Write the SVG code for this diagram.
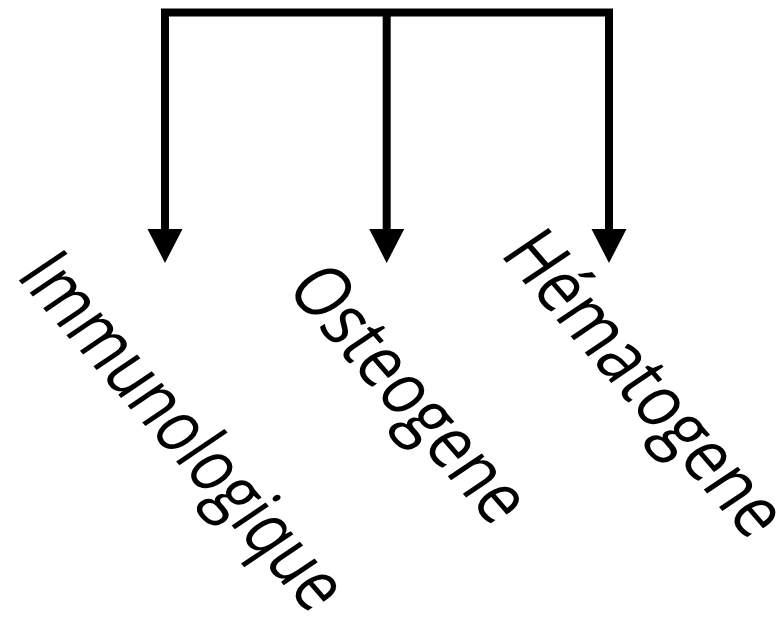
<svg xmlns="http://www.w3.org/2000/svg" width="777" height="617" viewBox="0 0 777 617">
  <style>
    .wire { fill: none; stroke: #000; stroke-width: 8; stroke-linejoin: miter; stroke-linecap: butt; }
    .head { fill: #000; }
    .label { font-family: "Open Sans", "DejaVu Sans", sans-serif; font-size: 76px; fill: #000; }
  </style>
  <defs>
    <polygon id="arrowhead" class="head" points="-17.5,0 17.5,0 0,34"/>
  </defs>
  <rect width="777" height="617" fill="#fff"/>

  <!-- bracket splitting into three branches -->
  <g id="connectors">
    <path class="wire" d="M165,230 V12.5 H609 V230"/>
    <path class="wire" d="M386.7,12.5 V230"/>
    <use href="#arrowhead" x="165" y="229"/>
    <use href="#arrowhead" x="386.7" y="229"/>
    <use href="#arrowhead" x="609" y="229"/>
  </g>

  <g id="node-immunologique">
    <text class="label" transform="translate(15,276) rotate(49) skewX(-7)" textLength="449" lengthAdjust="spacingAndGlyphs">Immunologique</text>
  </g>
  <g id="node-osteogene">
    <text class="label" transform="translate(284.6,288.6) rotate(49) skewX(-7)" textLength="317" lengthAdjust="spacingAndGlyphs">Osteogene</text>
  </g>
  <g id="node-hematogene">
    <text class="label" transform="translate(499,254) rotate(49) skewX(-7)" textLength="381" lengthAdjust="spacingAndGlyphs">Hématogene</text>
  </g>
</svg>
